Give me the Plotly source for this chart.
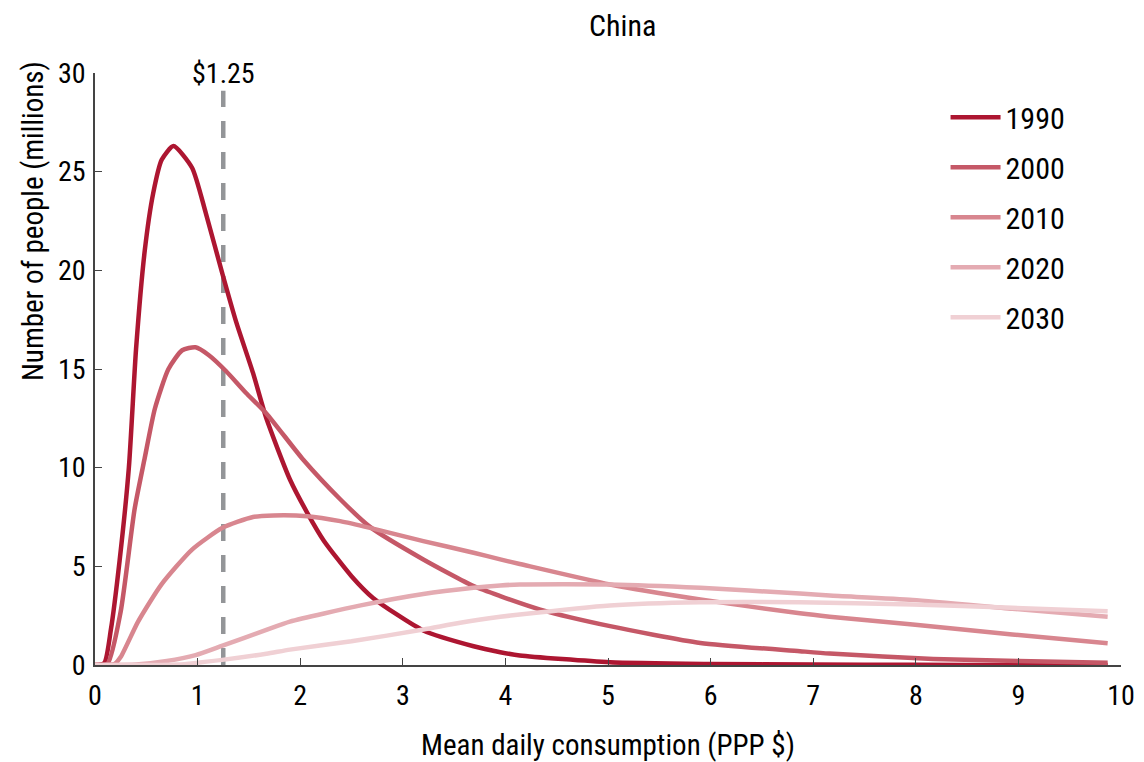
import plotly.graph_objects as go

# ---- data ----
years = ["1990", "2000", "2010", "2020", "2030"]

x_1990 = [0, 0.09, 0.155, 0.24, 0.33, 0.40, 0.485, 0.567, 0.65, 0.765, 0.946, 1.08, 1.243,
          1.375, 1.54, 1.67, 1.9, 2.07, 2.23, 2.5, 2.71, 3.2, 3.69, 3.95, 4.14, 5.02, 6.0,
          7.0, 8.0, 9.0, 9.87]
y_1990 = [0, 0.1, 1.8, 5.3, 10.0, 16.0, 21.0, 23.9, 25.6, 26.3, 25.2, 22.9, 19.8,
          17.4, 14.8, 12.5, 9.4, 7.7, 6.3, 4.5, 3.4, 1.75, 0.95, 0.65, 0.48, 0.14, 0.05,
          0.02, 0.01, 0.0, 0.0]

x_2000 = [0, 0.12, 0.25, 0.386, 0.485, 0.584, 0.716, 0.85, 0.98, 1.11, 1.276, 1.47, 1.67,
          2.03, 2.39, 2.68, 3.2, 3.69, 3.95, 4.34, 5.02, 5.9, 6.87, 7.16, 8.17, 9.0, 9.87]
y_2000 = [0, 0.05, 2.7, 7.9, 10.5, 13.0, 15.0, 15.95, 16.1, 15.7, 14.9, 13.8, 12.75,
          10.4, 8.4, 7.0, 5.35, 4.0, 3.49, 2.81, 1.97, 1.12, 0.70, 0.58, 0.31, 0.2, 0.11]

x_2010 = [0, 0.19, 0.25, 0.42, 0.65, 0.946, 1.243, 1.54, 1.74, 2.07, 2.39, 2.68, 3.2, 3.69,
          3.95, 4.14, 5.02, 5.9, 6.87, 7.16, 7.97, 8.94, 9.87]
y_2010 = [0, 0.05, 0.4, 2.2, 4.1, 5.85, 6.95, 7.5, 7.58, 7.54, 7.29, 6.95, 6.28, 5.69,
          5.35, 5.12, 4.08, 3.32, 2.62, 2.45, 2.05, 1.55, 1.1]

x_2020 = [0, 0.4, 0.7, 0.98, 1.243, 1.67, 1.9, 2.59, 3.2, 3.69, 3.95, 4.14, 5.02, 5.9,
          6.87, 7.16, 7.97, 8.94, 9.87]
y_2020 = [0, 0.02, 0.2, 0.5, 0.98, 1.78, 2.2, 3.02, 3.6, 3.91, 4.03, 4.08, 4.08, 3.91,
          3.62, 3.52, 3.3, 2.85, 2.44]

x_2030 = [0, 0.8, 1.24, 1.67, 1.9, 2.5, 3.2, 3.56, 3.95, 4.14, 5.02, 5.9, 6.87, 7.97,
          8.94, 9.87]
y_2030 = [0, 0.02, 0.26, 0.57, 0.78, 1.2, 1.8, 2.14, 2.44, 2.56, 3.02, 3.18, 3.18, 3.07,
          2.9, 2.73]

series_x = [x_1990, x_2000, x_2010, x_2020, x_2030]
series_y = [y_1990, y_2000, y_2010, y_2020, y_2030]

poverty_line = 1.25
poverty_top = 29.1
poverty_label = "$1.25"
x_ticks = list(range(0, 11))
y_ticks = [0, 5, 10, 15, 20, 25, 30]

colors = ["#ad1631", "#c55867", "#d8868f", "#e4abb2", "#f0d0d4"]
FONT = "Liberation Sans Narrow, Roboto Condensed, DejaVu Sans Condensed, Arial Narrow, sans-serif"

fig = go.Figure()

# dashed poverty line drawn first so the curves pass over it
fig.add_trace(go.Scatter(
    x=[poverty_line, poverty_line], y=[0, poverty_top], mode="lines", showlegend=False,
    line=dict(color="#939598", width=4.5, dash="17px,14px"),
))

for i, (yr, xs, ys) in enumerate(zip(years, series_x, series_y)):
    fig.add_trace(go.Scatter(
        x=xs, y=ys, mode="lines", name=yr, legendgroup=yr,
        line=dict(color=colors[i], width=4.5, shape="spline", smoothing=0.6),
    ))

fig.add_annotation(x=poverty_line, y=1.0, xref="x", yref="paper", yshift=0,
                   text=poverty_label, showarrow=False,
                   font=dict(size=28, color="black", family=FONT),
                   xanchor="center", yanchor="middle")

fig.add_annotation(x=0.5146, y=1.0, xref="paper", yref="paper", yshift=48,
                   text="China", showarrow=False,
                   font=dict(size=30, color="black", family=FONT),
                   xanchor="center", yanchor="middle")

fig.add_annotation(x=-0.0609, y=0.749, xref="paper", yref="paper", textangle=-90,
                   text="Number of people (millions)", showarrow=False,
                   font=dict(size=29, color="black", family=FONT),
                   xanchor="center", yanchor="middle")

# the page body has an 8px margin, so the figure is 8px smaller than the window
fig.update_layout(
    width=1136, height=754,
    margin=dict(l=86.5, r=22.5, t=65, b=96.5, autoexpand=False),
    paper_bgcolor="white", plot_bgcolor="white",
    font=dict(family=FONT, color="black", size=28),
    showlegend=True,
    legend=dict(x=0.829, y=0.969, xanchor="left", yanchor="top",
                font=dict(size=30, family=FONT, color="black"),
                tracegroupgap=8, itemwidth=50, bgcolor="rgba(0,0,0,0)"),
    xaxis=dict(range=[0, 10], tickvals=x_ticks, ticks="inside", ticklen=7,
               tickcolor="#444", showline=True, linecolor="#444", linewidth=1.5,
               showgrid=False, zeroline=False, ticklabelstandoff=5, automargin=False,
               tickfont=dict(size=28, family=FONT, color="black"),
               title=dict(text="Mean daily consumption (PPP $)",
                          font=dict(size=29, family=FONT, color="black"), standoff=23)),
    yaxis=dict(range=[0, 30], tickvals=y_ticks, ticks="inside", ticklen=7,
               tickcolor="#444", showline=True, linecolor="#444", linewidth=1.5,
               showgrid=False, zeroline=False, ticklabelstandoff=2, automargin=False,
               tickfont=dict(size=28, family=FONT, color="black")),
)

fig.write_html("out.html")
